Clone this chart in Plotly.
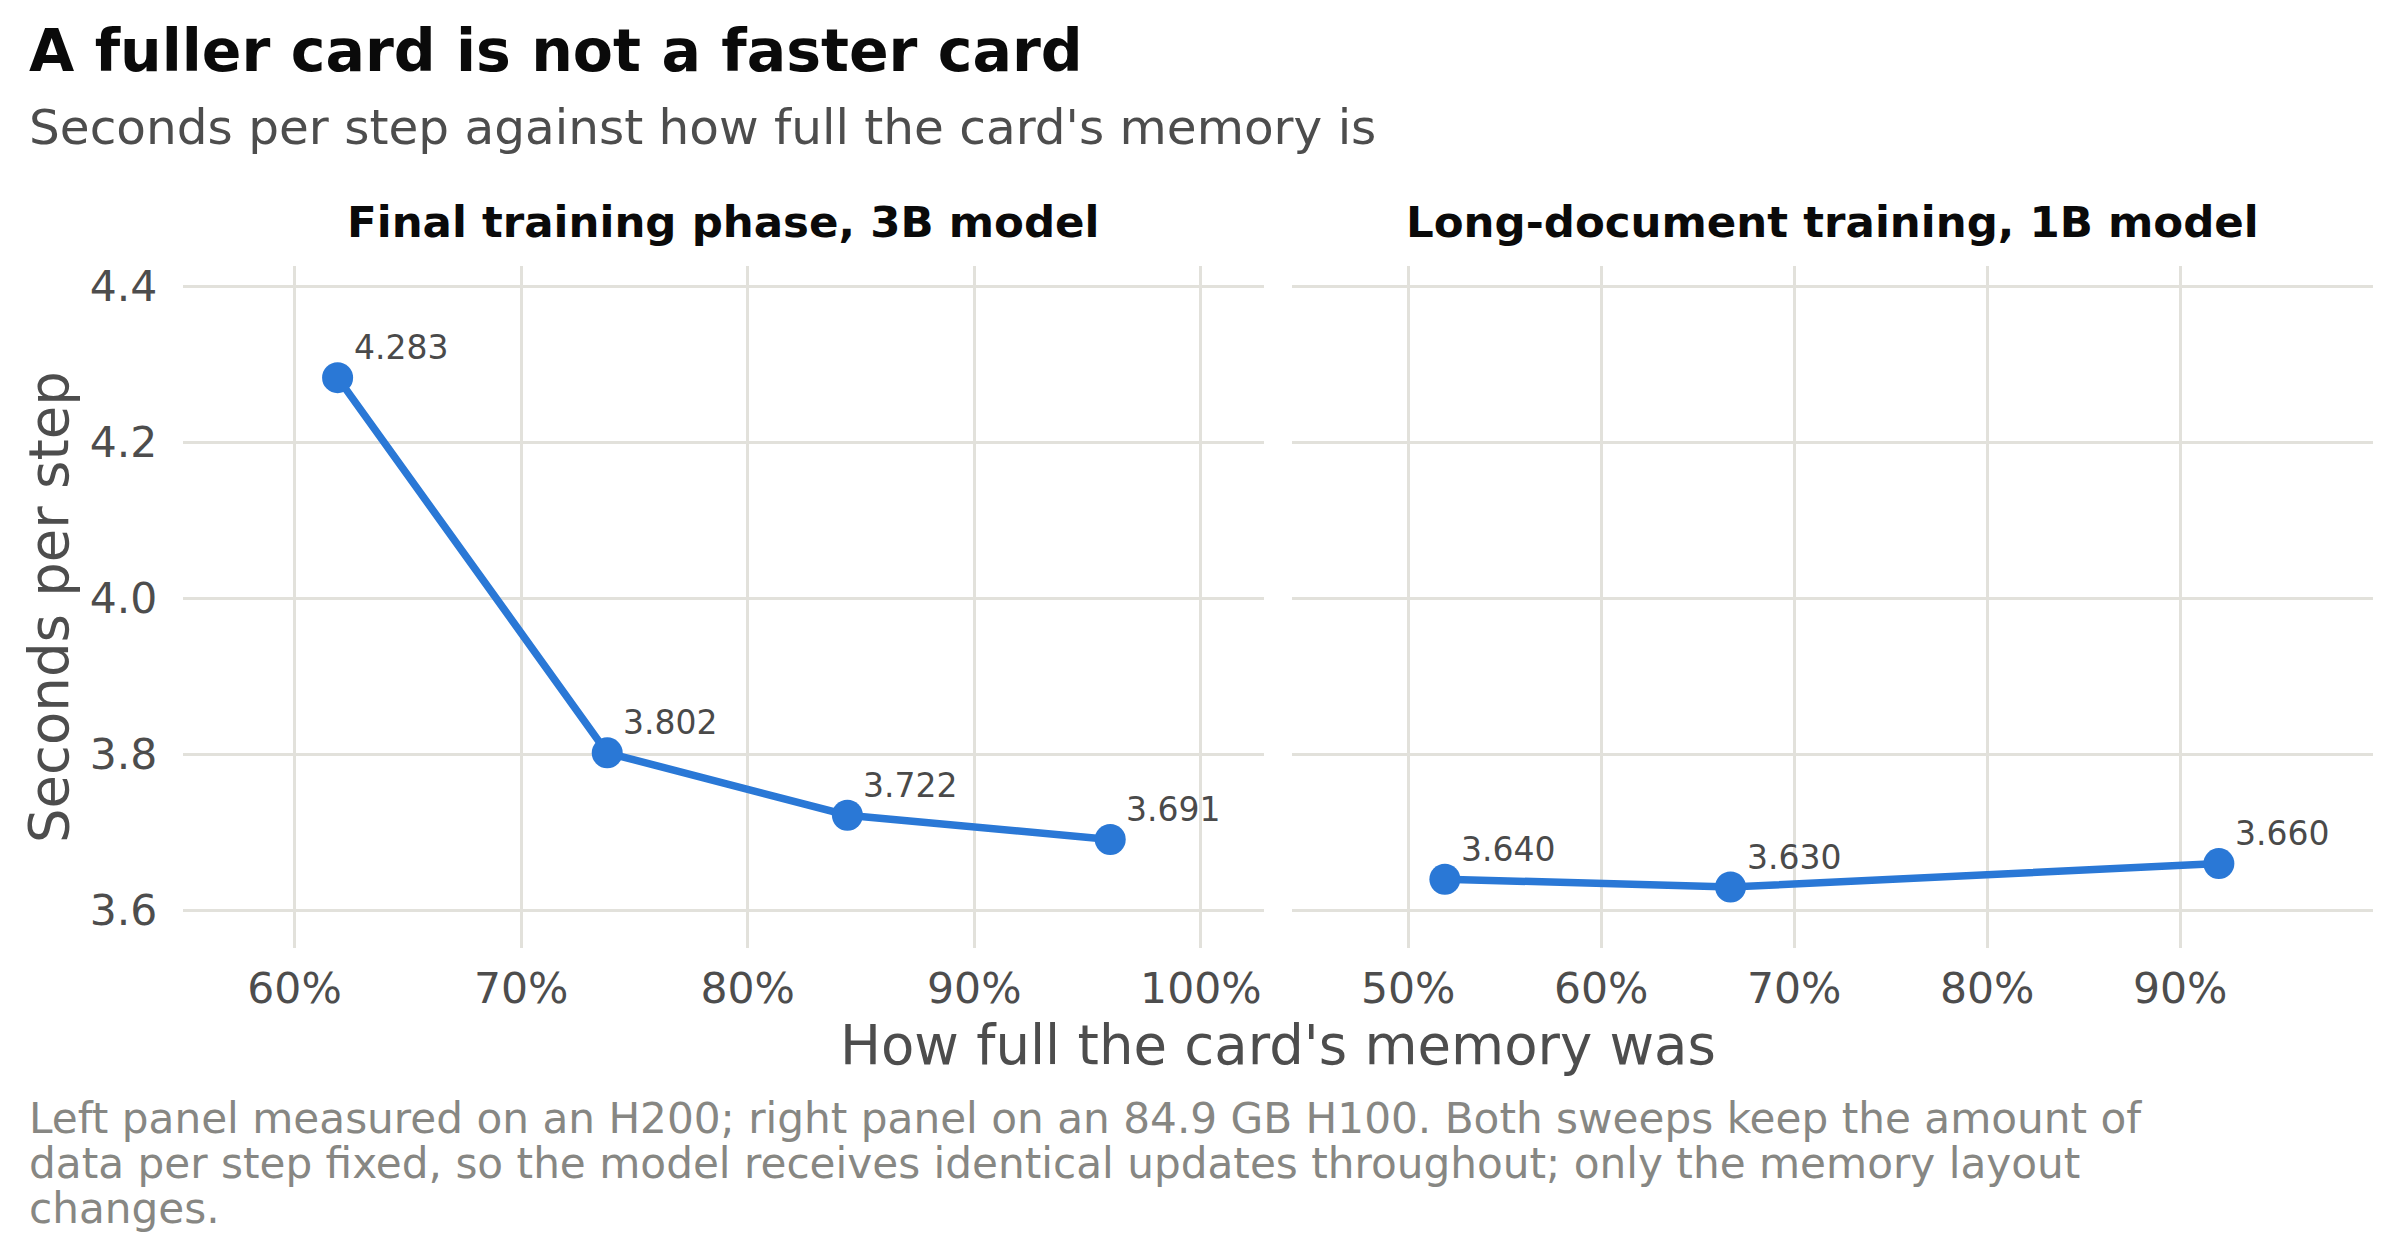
import plotly.graph_objects as go

# ---- data ----
panel_titles = ["Final training phase, 3B model", "Long-document training, 1B model"]
left_mem = [61.9, 73.8, 84.4, 96.0]
left_sec = [4.283, 3.802, 3.722, 3.691]
right_mem = [51.9, 66.7, 92.0]
right_sec = [3.640, 3.630, 3.660]
left_ticks = [60, 70, 80, 90, 100]
right_ticks = [50, 60, 70, 80, 90]
y_ticks = [3.6, 3.8, 4.0, 4.2, 4.4]

title = "A fuller card is not a faster card"
subtitle = "Seconds per step against how full the card's memory is"
x_title = "How full the card's memory was"
y_title = "Seconds per step"
caption_lines = [
    "Left panel measured on an H200; right panel on an 84.9 GB H100. Both sweeps keep the amount of",
    "data per step fixed, so the model receives identical updates throughout; only the memory layout",
    "changes.",
]

# ---- style ----
W, H = 2400, 1260
FONT = "DejaVu Sans"
BLUE = "#2a78d6"
GRID = "#e2e1db"
TXT = "#4d4d4d"
CAP = "#878783"


def px_x(p):
    return p / W


def px_y(p):
    return 1 - p / H


fig = go.Figure()
for mem, sec, xa, ya in [(left_mem, left_sec, "x", "y"), (right_mem, right_sec, "x2", "y2")]:
    fig.add_trace(go.Scatter(
        x=mem, y=sec, xaxis=xa, yaxis=ya, mode="lines+markers",
        line=dict(color=BLUE, width=7.5),
        marker=dict(color=BLUE, size=31, line=dict(width=0)),
        showlegend=False, hoverinfo="skip",
    ))

annotations = []
# point labels
for mem, sec, xa, ya in [(left_mem, left_sec, "x", "y"), (right_mem, right_sec, "x2", "y2")]:
    for m, s in zip(mem, sec):
        annotations.append(dict(
            x=m, y=s, xref=xa, yref=ya, text=f"{s:.3f}", showarrow=False,
            xanchor="left", yanchor="middle", xshift=14, yshift=30,
            font=dict(family=FONT, size=33, color="#4a4a4a"),
        ))

# title / subtitle
annotations.append(dict(x=px_x(27), y=px_y(47), xref="paper", yref="paper", text=f"<b>{title}</b>",
                        showarrow=False, xanchor="left", yanchor="middle",
                        font=dict(family=FONT, size=58.5, color="#0a0a0a")))
annotations.append(dict(x=px_x(27), y=px_y(123), xref="paper", yref="paper", text=subtitle,
                        showarrow=False, xanchor="left", yanchor="middle",
                        font=dict(family=FONT, size=48.5, color=TXT)))
# strip titles
for t, cx in zip(panel_titles, [(183.3 + 1264.3) / 2, (1292 + 2372.7) / 2]):
    annotations.append(dict(x=px_x(cx), y=px_y(219), xref="paper", yref="paper", text=f"<b>{t}</b>",
                            showarrow=False, xanchor="center", yanchor="middle",
                            font=dict(family=FONT, size=43.5, color="#0a0a0a")))
# axis titles
annotations.append(dict(x=px_x(1278), y=px_y(1044), xref="paper", yref="paper", text=x_title,
                        showarrow=False, xanchor="center", yanchor="middle",
                        font=dict(family=FONT, size=54.5, color=TXT)))
annotations.append(dict(x=px_x(49), y=px_y(605), xref="paper", yref="paper", text=y_title,
                        showarrow=False, xanchor="center", yanchor="middle", textangle=-90,
                        font=dict(family=FONT, size=54.5, color=TXT)))
# caption
for i, line in enumerate(caption_lines):
    annotations.append(dict(x=px_x(27), y=px_y(1118 + 45 * i), xref="paper", yref="paper", text=line,
                            showarrow=False, xanchor="left", yanchor="middle",
                            font=dict(family=FONT, size=42.2, color=CAP)))

axis_common = dict(showgrid=True, gridcolor=GRID, gridwidth=3, zeroline=False, showline=False,
                   ticks="", tickfont=dict(family=FONT, size=42.5, color=TXT))

fig.update_layout(
    width=W, height=H, margin=dict(l=0, r=0, t=0, b=0),
    paper_bgcolor="white", plot_bgcolor="white",
    annotations=annotations,
    xaxis=dict(domain=[px_x(183.3), px_x(1264.3)], range=[55.09, 102.8],
               tickvals=left_ticks, ticktext=[f"{v}%" for v in left_ticks],
               ticklabelstandoff=12, anchor="y", **axis_common),
    xaxis2=dict(domain=[px_x(1292), px_x(2372.7)], range=[43.98, 99.97],
                tickvals=right_ticks, ticktext=[f"{v}%" for v in right_ticks],
                ticklabelstandoff=12, anchor="y2", **axis_common),
    yaxis=dict(domain=[px_y(946.7), px_y(262.7)], range=[3.5522, 4.4263],
               tickvals=y_ticks, ticktext=[f"{v:.1f}" for v in y_ticks],
               ticklabelstandoff=25, anchor="x", **axis_common),
    yaxis2=dict(domain=[px_y(946.7), px_y(262.7)], range=[3.5522, 4.4263],
                tickvals=y_ticks, showticklabels=False, anchor="x2", **axis_common),
)

fig.write_html("out.html", config={"displayModeBar": False},
               post_script="document.body.style.margin='0px';")
